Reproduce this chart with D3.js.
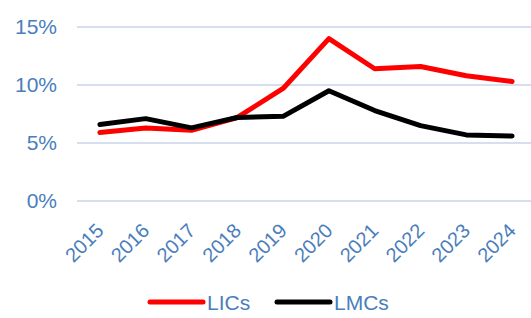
<!DOCTYPE html>
<html>
<head>
<meta charset="utf-8">
<script src="https://cdn.jsdelivr.net/npm/d3@7"></script>
<style>
  body { margin: 0; background: #fff; }
  text { font-family: "Liberation Sans", Arial, sans-serif; }
</style>
</head>
<body>
<svg id="chart" width="531" height="318"></svg>
<script>
// chart data
const years = ["2015", "2016", "2017", "2018", "2019", "2020", "2021", "2022", "2023", "2024"];
const lics = [5.9, 6.3, 6.1, 7.2, 9.7, 14.0, 11.4, 11.6, 10.8, 10.3];
const lmcs = [6.6, 7.1, 6.3, 7.2, 7.3, 9.5, 7.8, 6.5, 5.7, 5.6];
const yTicks = [0, 5, 10, 15];

const series = [
    { name: "LICs", values: lics, color: "#ff0000" },
    { name: "LMCs", values: lmcs, color: "#000000" }
];

const svg = d3.select("#chart");
const blue = "#4a7ebb";

const x = d3.scaleBand().domain(years).range([77, 535]);
const y = d3.scaleLinear().domain([0, 15]).range([201, 27]);

// gridlines
svg.append("g")
    .selectAll("line")
    .data(yTicks)
    .enter().append("line")
    .attr("x1", 77).attr("x2", 531)
    .attr("y1", d => y(d)).attr("y2", d => y(d))
    .attr("stroke", "#c9d4ea")
    .attr("stroke-width", 1.5);

// y axis labels
const yAxis = svg.append("g")
    .attr("transform", "translate(62,0)")
    .call(d3.axisLeft(y).tickValues(yTicks).tickFormat(d => d + "%").tickSize(0).tickPadding(5));
yAxis.select(".domain").remove();
yAxis.selectAll("text")
    .attr("fill", blue)
    .style("font-size", "21px")
    .style("font-family", "'Liberation Sans', Arial, sans-serif");

// x axis labels, rotated 45deg
const xAxis = svg.append("g")
    .attr("transform", "translate(0,201)")
    .call(d3.axisBottom(x).tickSize(0).tickPadding(0));
xAxis.select(".domain").remove();
xAxis.selectAll("text")
    .attr("fill", blue)
    .style("font-size", "20px")
    .style("font-family", "'Liberation Sans', Arial, sans-serif")
    .attr("text-anchor", "end")
    .attr("y", 0)
    .attr("dy", 0)
    .attr("transform", "translate(5,31) rotate(-45)");

// lines
const line = d3.line()
    .x((d, i) => x(years[i]) + x.bandwidth() / 2)
    .y(d => y(d));

svg.selectAll(".series")
    .data(series)
    .enter().append("path")
    .attr("class", "series")
    .attr("d", d => line(d.values))
    .attr("fill", "none")
    .attr("stroke", d => d.color)
    .attr("stroke-width", 5)
    .attr("stroke-linejoin", "round")
    .attr("stroke-linecap", "round");

// legend
const legendX = [150, 277];
const legend = svg.selectAll(".legend")
    .data(series)
    .enter().append("g")
    .attr("class", "legend")
    .attr("transform", (d, i) => `translate(${legendX[i]},302)`);
legend.append("line")
    .attr("x1", 0).attr("x2", 53)
    .attr("stroke", d => d.color)
    .attr("stroke-width", 5)
    .attr("stroke-linecap", "round");
legend.append("text")
    .attr("x", 57)
    .attr("dy", "0.36em")
    .attr("fill", blue)
    .style("font-size", "21px")
    .text(d => d.name);
</script>
</body>
</html>
